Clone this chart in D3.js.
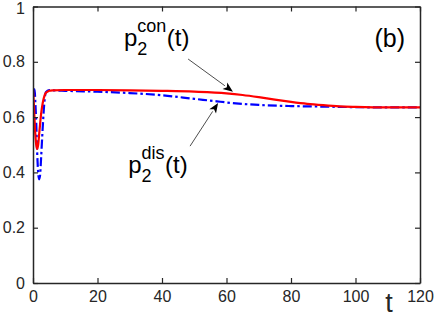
<!DOCTYPE html>
<html>
<head>
<meta charset="utf-8">
<script src="https://cdn.jsdelivr.net/npm/d3@7"></script>
<style>
  html, body { margin: 0; padding: 0; background: #fff; }
  svg { display: block; font-family: "Liberation Sans", Arial, Helvetica, sans-serif; }
</style>
</head>
<body>
<svg id="chart" width="436" height="317"></svg>
<script>
// ---- data ----
const tCon = [0, 0.3, 0.6, 1.0, 1.3, 1.6, 2.0, 2.5, 3.0, 3.5, 4.0, 5.0, 6.0, 10, 20, 30, 40, 50, 60, 65, 70, 75, 80, 85, 90, 95, 100, 110, 120];
const pCon = [0.70, 0.64, 0.56, 0.50, 0.485, 0.50, 0.55, 0.61, 0.65, 0.675, 0.688, 0.695, 0.697, 0.698, 0.698, 0.697, 0.695, 0.692, 0.686, 0.680, 0.672, 0.663, 0.655, 0.648, 0.643, 0.639, 0.637, 0.635, 0.635];
const tDis = [0, 0.5, 0.7, 1.0, 1.3, 1.6, 1.9, 2.2, 2.5, 3.0, 3.5, 4.0, 5.0, 6.0, 10, 20, 30, 40, 50, 57, 60, 70, 80, 90, 100, 110, 120];
const pDis = [0.70, 0.70, 0.66, 0.58, 0.47, 0.40, 0.375, 0.39, 0.45, 0.56, 0.65, 0.69, 0.698, 0.697, 0.695, 0.692, 0.687, 0.679, 0.666, 0.657, 0.653, 0.644, 0.640, 0.638, 0.636, 0.635, 0.635];
const xTicks = [0, 20, 40, 60, 80, 100, 120];
const yTicks = [0, 0.2, 0.4, 0.6, 0.8, 1];
const yTickLabels = ["0", "0.2", "0.4", "0.6", "0.8", "1"];

const svg = d3.select("#chart");
const L = 33, R = 420, T = 6.5, B = 283;
const x = d3.scaleLinear().domain([0, 120]).range([L, R]);
const y = d3.scaleLinear().domain([0, 1]).range([B, T]);
const axisColor = "#262626";

// clip
svg.append("defs").append("clipPath").attr("id", "clip")
  .append("rect").attr("x", L).attr("y", T).attr("width", R - L).attr("height", B - T);

// lines
const line = d3.line().x(d => x(d[0])).y(d => y(d[1])).curve(d3.curveMonotoneX);
const g = svg.append("g").attr("clip-path", "url(#clip)");
g.append("path").datum(d3.zip(tDis, pDis)).attr("d", line)
  .attr("fill", "none").attr("stroke", "#0000ff").attr("stroke-width", 2.2)
  .attr("stroke-dasharray", "9,3,2.5,3");
g.append("path").datum(d3.zip(tCon, pCon)).attr("d", line)
  .attr("fill", "none").attr("stroke", "#ff0000").attr("stroke-width", 2.2);

// axes (MATLAB-like box with inward ticks)
const tl = 5;
const xb = svg.append("g").attr("transform", `translate(0,${B})`)
  .call(d3.axisBottom(x).tickValues(xTicks).tickSizeInner(-tl).tickSizeOuter(0).tickPadding(8).tickFormat(d3.format("d")));
const xt = svg.append("g").attr("transform", `translate(0,${T})`)
  .call(d3.axisTop(x).tickValues(xTicks).tickSizeInner(-tl).tickSizeOuter(0).tickFormat(""));
const yl = svg.append("g").attr("transform", `translate(${L},0)`)
  .call(d3.axisLeft(y).tickValues(yTicks).tickSizeInner(-tl).tickSizeOuter(0).tickPadding(8).tickFormat((d, i) => yTickLabels[i]));
const yr = svg.append("g").attr("transform", `translate(${R},0)`)
  .call(d3.axisRight(y).tickValues(yTicks).tickSizeInner(-tl).tickSizeOuter(0).tickFormat(""));
[xb, xt, yl, yr].forEach(a => {
  a.selectAll("path.domain").attr("stroke", axisColor).attr("stroke-width", 1.5);
  a.selectAll(".tick line").attr("stroke", axisColor).attr("stroke-width", 1.2);
  a.selectAll("text").attr("fill", axisColor).attr("font-size", 16)
    .attr("font-family", "'Liberation Sans', Arial, sans-serif");
});
xb.selectAll("text").attr("dy", "0.71em");
yl.selectAll(".tick text").filter(d => d === 1).attr("dy", "0.45em");

// t label
svg.append("text").attr("x", x(110.4)).attr("y", 312).attr("text-anchor", "middle")
  .attr("font-size", 27).attr("fill", axisColor).text("t");

// (b)
svg.append("text").attr("x", x(120) - 15).attr("y", y(0.853)).attr("text-anchor", "end")
  .attr("font-size", 25).attr("fill", "#000").text("(b)");

// annotation labels
function label(t0, v0, sup) {
  const px = x(t0), py = y(v0);
  const grp = svg.append("g");
  const p = grp.append("text").attr("x", px).attr("y", py).attr("font-size", 24).text("p");
  const w = p.node().getComputedTextLength();
  const sub = grp.append("text").attr("x", px + w).attr("y", py + 9).attr("font-size", 18).text("2");
  const sp = grp.append("text").attr("x", px + w).attr("y", py - 14).attr("font-size", 18).text(sup);
  const w2 = Math.max(sub.node().getComputedTextLength(), sp.node().getComputedTextLength());
  grp.append("text").attr("x", px + w + w2 + 0.5).attr("y", py).attr("font-size", 24).text("(t)");
}
label(28.2, 0.857, "con");
label(29.5, 0.398, "dis");

// arrows
function arrow(t1, v1, t2, v2) {
  const x1 = x(t1), y1 = y(v1), x2 = x(t2), y2 = y(v2);
  const ang = Math.atan2(y2 - y1, x2 - x1);
  const len = 10, hw = 4;
  const bx = x2 - len * Math.cos(ang), by = y2 - len * Math.sin(ang);
  svg.append("line").attr("x1", x1).attr("y1", y1).attr("x2", bx).attr("y2", by)
    .attr("stroke", "#000").attr("stroke-width", 0.7);
  const nx = -Math.sin(ang), ny = Math.cos(ang);
  const nb = 0.75;
  const pts = [
    [x2, y2],
    [bx + nx * hw, by + ny * hw],
    [x2 - len * nb * Math.cos(ang), y2 - len * nb * Math.sin(ang)],
    [bx - nx * hw, by - ny * hw]
  ];
  svg.append("path").attr("d", "M" + pts.map(p => p.join(",")).join("L") + "Z").attr("fill", "#000");
}
arrow(48.1, 0.81, 62.0, 0.692);
arrow(48.7, 0.495, 57.4, 0.651);
</script>
</body>
</html>
